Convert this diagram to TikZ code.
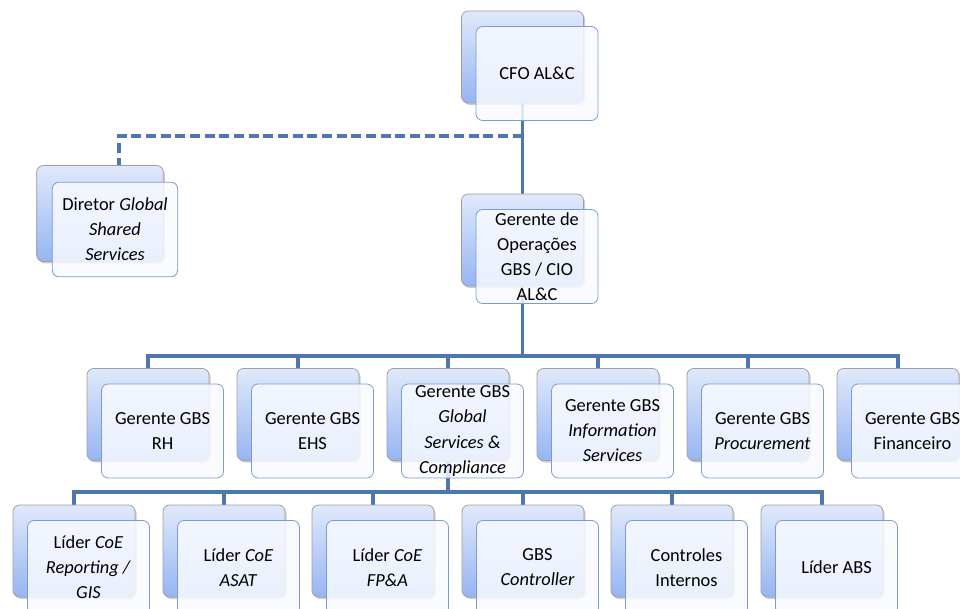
\documentclass[tikz,border=0pt]{standalone}
\usepackage{fontspec}
\setmainfont{Carlito}
\usepackage{xcolor}
\usepackage{tikz}
\usetikzlibrary{calc}
\usetikzlibrary{positioning,shadows,backgrounds}

\definecolor{linkblue}{RGB}{79,119,175}
\definecolor{backtop}{RGB}{224,233,251}
\definecolor{backbot}{RGB}{150,181,242}
\definecolor{frontline}{RGB}{122,156,210}
\definecolor{frontfill}{RGB}{248,250,255}

\begin{document}
\begin{tikzpicture}[x=0.75pt,y=-0.75pt,semithick]
	\tikzstyle{back}=[rounded corners=5pt, minimum width=91.5pt, minimum height=69pt, top color=backtop, bottom color=backbot, draw=gray!75, drop shadow={shadow xshift=1.2pt,shadow yshift=-1.5pt,opacity=.4}]
	\tikzstyle{front}=[rounded corners=5pt, minimum width=91.5pt, minimum height=70.5pt, inner sep=0pt, draw=frontline, fill=frontfill, fill opacity=.85, text opacity=1, align=center, font=\fontsize{13.8}{18.8}\selectfont]
	\tikzstyle{link}=[line width=2.3pt, draw=linkblue]
	\useasboundingbox (0,0) rectangle (960,609);

	% top
	\node[back] (cfo) at (522.5,57) {};
	\node[front] (cfoF) at ([shift={(14.5,16.5)}]cfo) {CFO AL\&C};
	\node[back, minimum width=95pt, minimum height=72pt] (dir) at (100,213.5) {};
	\node[front, minimum width=94pt, minimum height=71pt] (dirF) at ([shift={(15,16)}]dir) {Diretor \textit{Global}\\\textit{Shared}\\\textit{Services}};
	\node[back] (gop) at (522.5,240) {};
	\node[front] (gopF) at ([shift={(14.5,16.5)}]gop) {Gerente de\\Operações\\GBS / CIO\\AL\&C};

	% gerentes
	\node[back] (rh) at (148,414.5) {};
	\node[front] (rhF) at ([shift={(14.5,16.5)}]rh) {Gerente GBS\\RH};
	\node[back] (ehs) at (298,414.5) {};
	\node[front] (ehsF) at ([shift={(14.5,16.5)}]ehs) {Gerente GBS\\EHS};
	\node[back] (gsc) at (448,414.5) {};
	\node[front] (gscF) at ([shift={(14.5,16.5)}]gsc) {Gerente GBS\\\textit{Global}\\\textit{Services \&}\\\textit{Compliance}};
	\node[back] (ins) at (598,414.5) {};
	\node[front] (insF) at ([shift={(14.5,16.5)}]ins) {Gerente GBS\\\textit{Information}\\\textit{Services}};
	\node[back] (proc) at (748,414.5) {};
	\node[front] (procF) at ([shift={(14.5,16.5)}]proc) {Gerente GBS\\\textit{Procurement}};
	\node[back] (fin) at (898,414.5) {};
	\node[front] (finF) at ([shift={(14.5,16.5)}]fin) {Gerente GBS\\Financeiro};

	% lideres
	\node[back] (rep) at (74,551) {};
	\node[front] (repF) at ([shift={(14.5,16.5)}]rep) {Líder \textit{CoE}\\\textit{Reporting /}\\\textit{GIS}};
	\node[back] (asat) at (224,551) {};
	\node[front] (asatF) at ([shift={(14.5,16.5)}]asat) {Líder \textit{CoE}\\\textit{ASAT}};
	\node[back] (fpa) at (373,551) {};
	\node[front] (fpaF) at ([shift={(14.5,16.5)}]fpa) {Líder \textit{CoE}\\\textit{FP\&A}};
	\node[back] (ctrl) at (523,551) {};
	\node[front] (ctrlF) at ([shift={(14.5,16.5)}]ctrl) {GBS\\\textit{Controller}};
	\node[back] (ci) at (672,551) {};
	\node[front] (ciF) at ([shift={(14.5,16.5)}]ci) {Controles\\Internos};
	\node[back] (abs) at (822,551) {};
	\node[front] (absF) at ([shift={(14.5,16.5)}]abs) {Líder ABS};

	\coordinate (dash) at (522.5,136);
	\coordinate (busA) at (0,356);
	\coordinate (busB) at (0,492);

	\begin{pgfonlayer}{background}
		\path[link] (cfo.south) edge (gop.north);
		\draw[link, dashed, dash pattern=on 7.5pt off 3.5pt] (dash) -| ([xshift=3pt]dirF.north);
		\foreach \n in {rh,ehs,gsc,ins,proc,fin}
			\draw[link] (gop.south) -- (gop.south |- busA) -| (\n.north);
		\foreach \n in {rep,asat,fpa,ctrl,ci,abs}
			\draw[link] (gsc.south) -- (gsc.south |- busB) -| (\n.north);
	\end{pgfonlayer}
\end{tikzpicture}
\end{document}
